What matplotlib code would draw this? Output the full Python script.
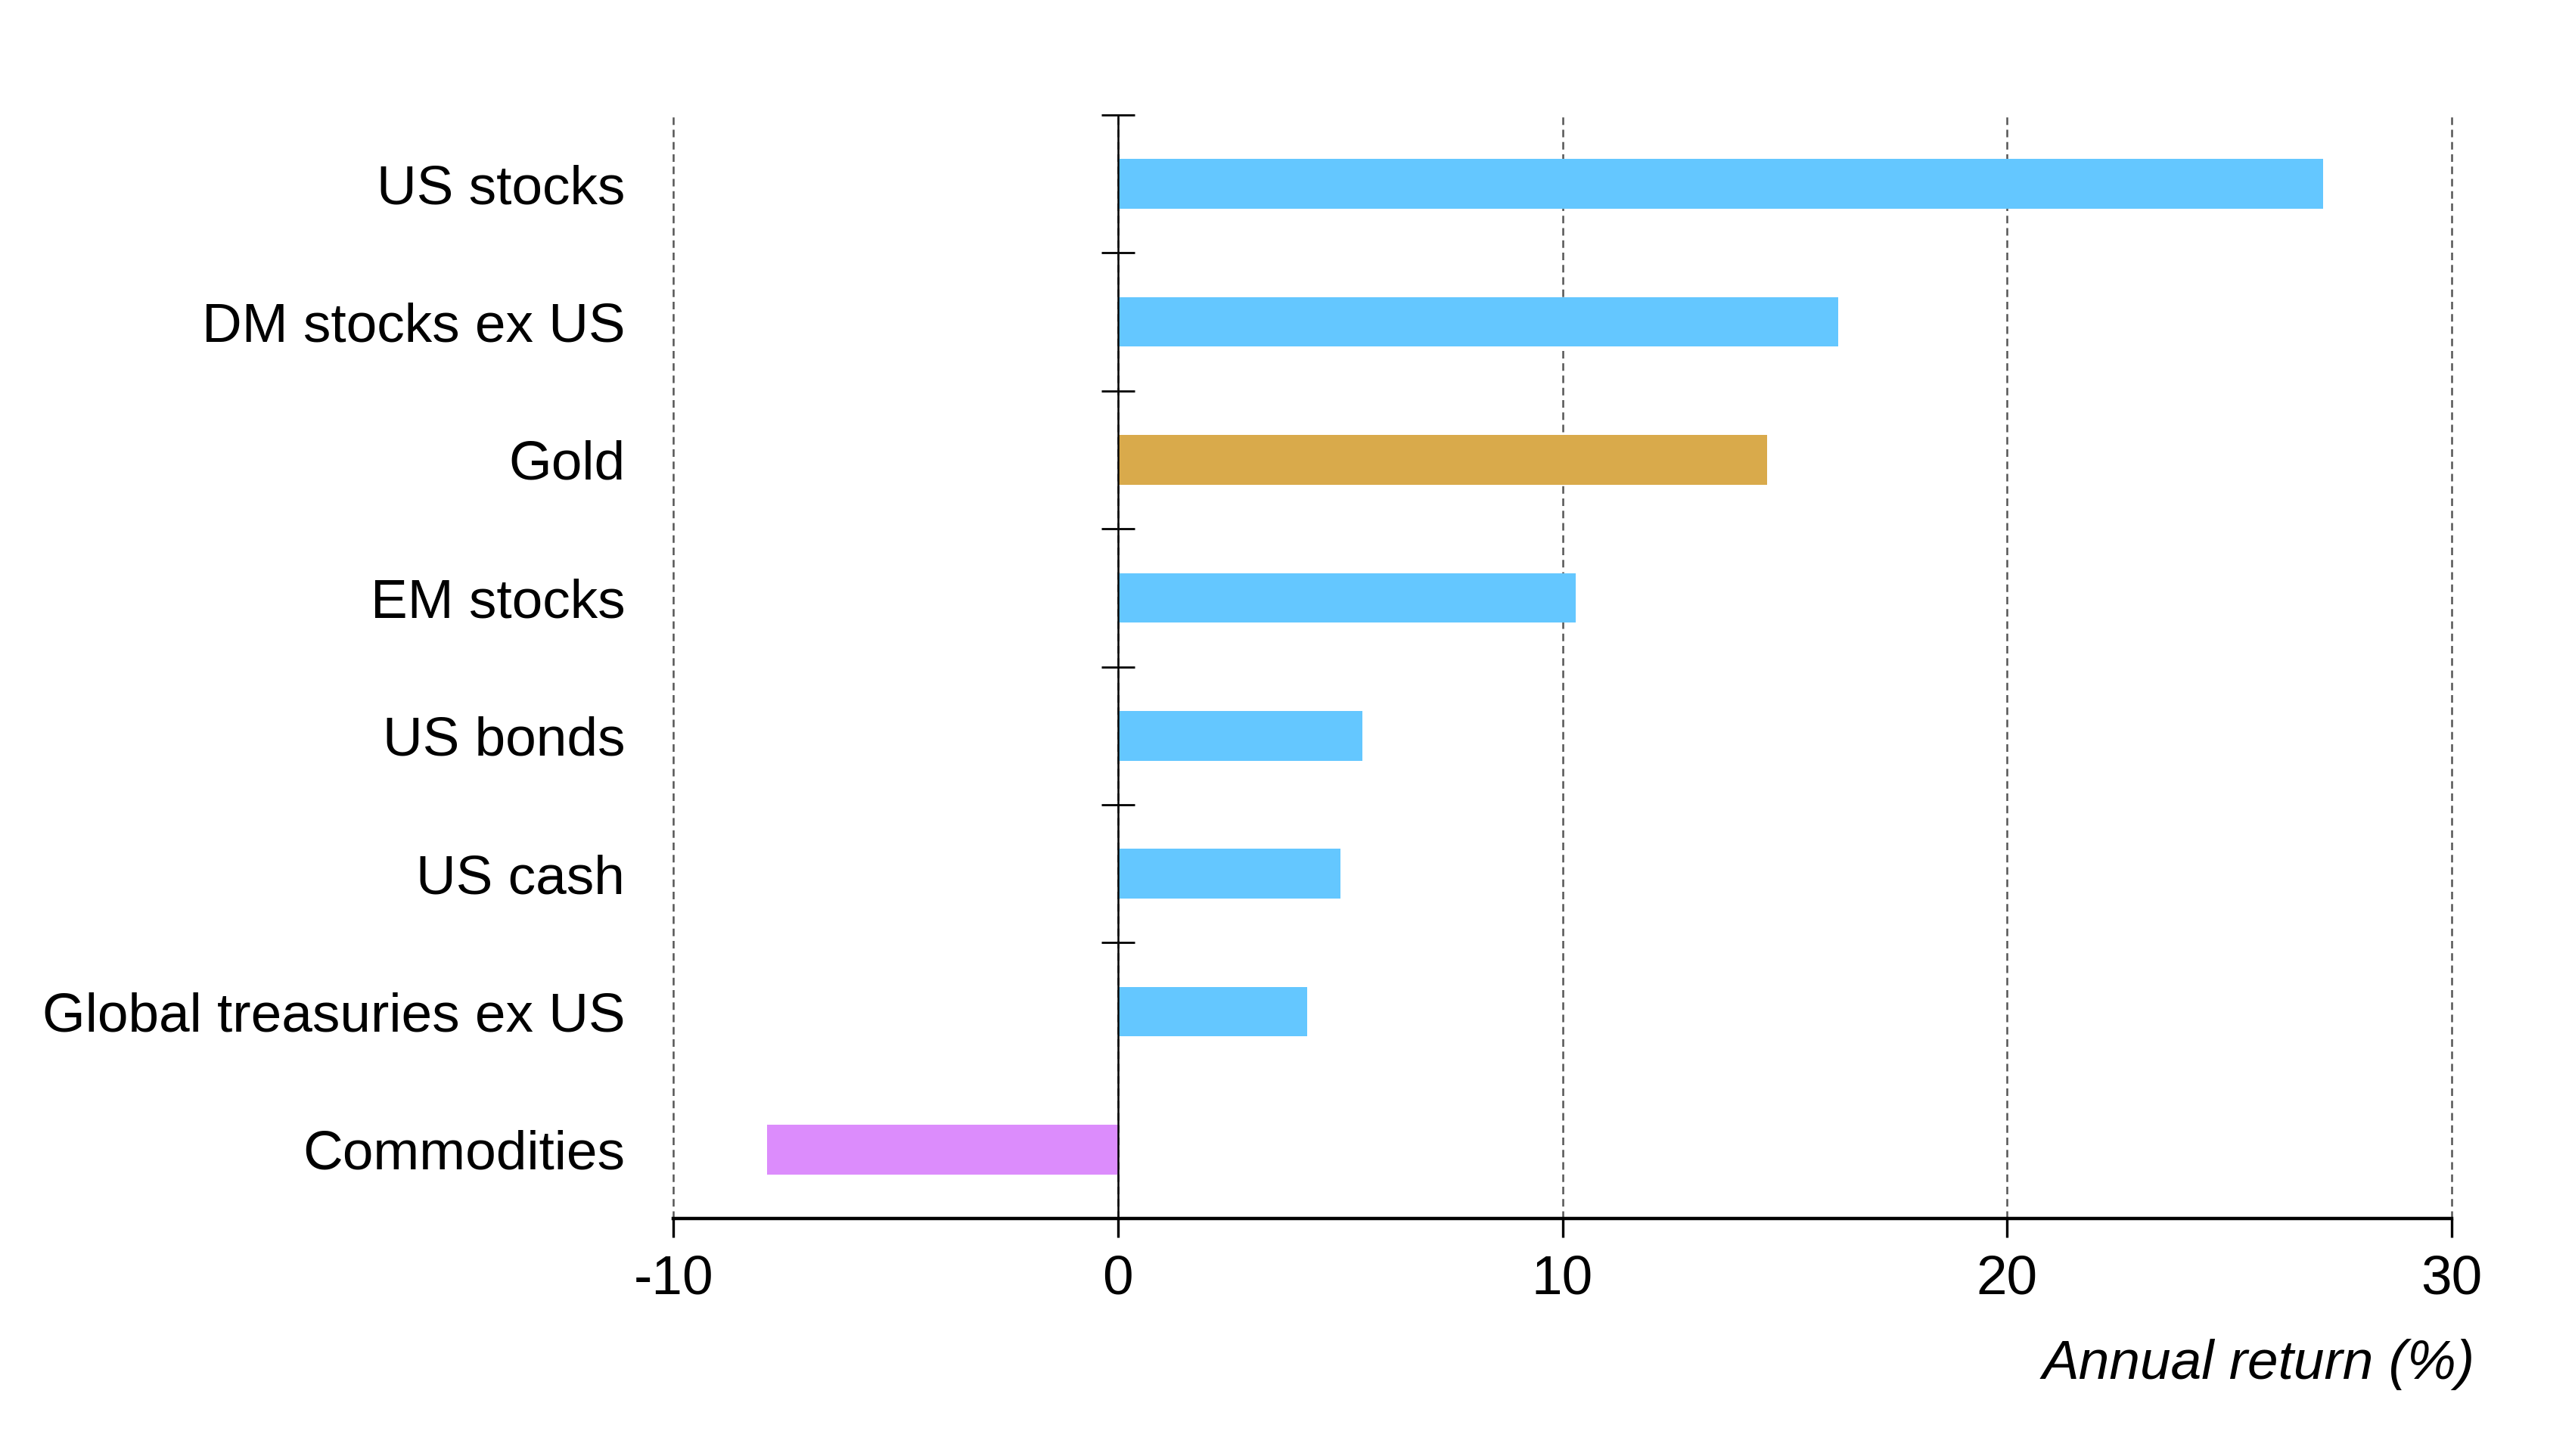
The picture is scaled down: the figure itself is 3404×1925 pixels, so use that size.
import matplotlib
matplotlib.use("Agg")
import numpy as np
from matplotlib import pyplot as plt

plt.rcParams['font.family'] = ['Liberation Sans', 'DejaVu Sans']

categories = ['US stocks', 'DM stocks ex US', 'Gold', 'EM stocks', 'US bonds',
              'US cash', 'Global treasuries ex US', 'Commodities']
returns = [27.1, 16.2, 14.6, 10.3, 5.5, 5.0, 4.25, -7.9]
colors = ['#64C7FF', '#64C7FF', '#D9AA4B', '#64C7FF', '#64C7FF',
          '#64C7FF', '#64C7FF', '#DC8CFC']
xticks = [-10, 0, 10, 20, 30]

fig = plt.figure(figsize=(17.02, 9.625), dpi=200)
ax = fig.add_axes([0.2615, 0.1631, 0.9521 - 0.2615, 0.921 - 0.1631])

y = np.arange(len(categories))
ax.barh(y, returns, height=0.36, color=colors, zorder=2)

ax.set_xlim(-10, 30)
ax.set_ylim(len(categories) - 0.5, -0.5)
ax.set_xticks(xticks)
ax.set_xticklabels([str(t) for t in xticks])
ax.set_yticks(y)
ax.set_yticklabels(categories)

ax.tick_params(axis='y', length=0, pad=23, labelsize=26.3)
ax.tick_params(axis='x', direction='out', length=9, width=1.2, pad=8, labelsize=26.3)

for s in ['top', 'right', 'left']:
    ax.spines[s].set_visible(False)
ax.spines['bottom'].set_linewidth(1.6)
ax.spines['bottom'].set_zorder(4)

# dashed vertical grid
ax.xaxis.grid(True, linestyle=(0, (4, 2.5)), color='#555555', linewidth=0.9, zorder=0)
for gl in ax.get_xgridlines():
    gl.set_clip_on(False)

# zero line with category boundary ticks
ax.axvline(0, color='black', linewidth=0.9, zorder=3)
sec = ax.secondary_yaxis(0.25)
sec.spines['left'].set_visible(False)
sec.set_yticks(np.arange(len(categories) - 1) - 0.5)
sec.set_yticklabels([])
sec.tick_params(axis='y', direction='inout', length=16, width=1.0)

ax.set_xlabel('Annual return (%)', loc='right', fontsize=26.3, style='italic')
ax.xaxis.set_label_coords(1.013, -0.132)
ax.xaxis.label.set_va('center')

fig.savefig('out.png', dpi=200, facecolor='white')
